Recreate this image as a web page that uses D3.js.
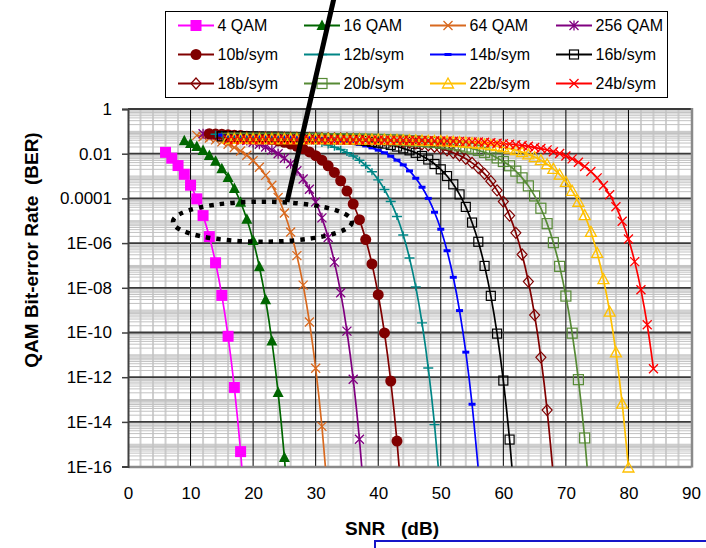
<!DOCTYPE html>
<html>
<head>
<meta charset="utf-8">
<script src="https://cdn.jsdelivr.net/npm/d3@7"></script>
<style>
  body { margin: 0; background: #fff; }
  svg { display: block; }
  text { font-family: Arial, "Liberation Sans", sans-serif; fill: #000; }
</style>
</head>
<body>
<svg id="chart" width="706" height="548"></svg>
<script>
// ---- data: log10(BER) per series, one point per dB starting at snrStart ----
const seriesLabels = ["4 QAM", "16 QAM", "64 QAM", "256 QAM",
  "10b/sym", "12b/sym", "14b/sym", "16b/sym",
  "18b/sym", "20b/sym", "22b/sym", "24b/sym"];

const snrStart = [6, 9, 11, 12, 13, 14, 15, 15, 16, 16, 16, 16];

const logBer4qam = [-1.94, -2.20, -2.53, -2.92, -3.41, -4.02, -4.77, -5.71, -6.88, -8.34,
  -10.17, -12.46, -15.33, -18.94];

const logBer16qam = [-1.42, -1.54, -1.68, -1.86, -2.08, -2.34, -2.67, -3.06, -3.56, -4.17,
  -4.93, -5.88, -7.06, -8.53, -10.38, -12.69, -15.59, -19.22];

const logBer64qam = [-1.18, -1.24, -1.30, -1.38, -1.47, -1.58, -1.72, -1.88, -2.07, -2.31,
  -2.61, -2.97, -3.41, -3.96, -4.65, -5.50, -6.56, -7.88, -9.53, -11.60, -14.20, -17.45];

const logBer256qam = [-1.11, -1.13, -1.16, -1.20, -1.24, -1.29, -1.34, -1.41, -1.49, -1.58,
  -1.70, -1.84, -2.00, -2.20, -2.45, -2.76, -3.13, -3.59, -4.16, -4.87,
  -5.75, -6.85, -8.22, -9.94, -12.09, -14.78, -18.16];

const logBer10b = [-1.11, -1.12, -1.13, -1.15, -1.17, -1.19, -1.22, -1.25, -1.28, -1.32,
  -1.37, -1.43, -1.49, -1.57, -1.67, -1.78, -1.92, -2.09, -2.29, -2.54,
  -2.84, -3.21, -3.67, -4.25, -4.95, -5.84, -6.93, -8.31, -10.02, -12.17,
  -14.86, -18.24];

const logBer12b = [-1.13, -1.13, -1.14, -1.15, -1.16, -1.17, -1.18, -1.19, -1.21, -1.23,
  -1.25, -1.27, -1.30, -1.34, -1.38, -1.42, -1.47, -1.54, -1.61, -1.71,
  -1.81, -1.95, -2.10, -2.29, -2.53, -2.81, -3.17, -3.60, -4.14, -4.81,
  -5.64, -6.67, -7.96, -9.57, -11.59, -14.12, -17.29];

const logBer14b = [-1.17, -1.18, -1.18, -1.18, -1.19, -1.19, -1.20, -1.21, -1.21, -1.22,
  -1.23, -1.24, -1.26, -1.27, -1.29, -1.31, -1.33, -1.36, -1.39, -1.43,
  -1.47, -1.52, -1.58, -1.65, -1.74, -1.84, -1.96, -2.11, -2.29, -2.50,
  -2.77, -3.10, -3.50, -4.00, -4.62, -5.38, -6.34, -7.53, -9.02, -10.88,
  -13.21, -16.14];

const logBer16b = [-1.22, -1.22, -1.22, -1.22, -1.23, -1.23, -1.23, -1.24, -1.24, -1.24,
  -1.25, -1.25, -1.26, -1.27, -1.28, -1.29, -1.30, -1.31, -1.32, -1.34,
  -1.36, -1.38, -1.40, -1.43, -1.47, -1.51, -1.55, -1.61, -1.68, -1.76,
  -1.85, -1.96, -2.10, -2.26, -2.46, -2.70, -3.00, -3.37, -3.82, -4.38,
  -5.08, -5.94, -7.02, -8.36, -10.05, -12.15, -14.79, -18.10];

const logBer18b = [-1.26, -1.26, -1.27, -1.27, -1.27, -1.27, -1.27, -1.27, -1.27, -1.28,
  -1.28, -1.28, -1.29, -1.29, -1.29, -1.30, -1.30, -1.31, -1.32, -1.32,
  -1.33, -1.34, -1.35, -1.37, -1.38, -1.40, -1.42, -1.44, -1.47, -1.50,
  -1.54, -1.58, -1.63, -1.69, -1.77, -1.85, -1.96, -2.08, -2.23, -2.41,
  -2.63, -2.90, -3.23, -3.64, -4.14, -4.77, -5.54, -6.51, -7.72, -9.22,
  -11.11, -13.47, -16.44];

const logBer20b = [-1.31, -1.31, -1.31, -1.31, -1.31, -1.31, -1.31, -1.31, -1.31, -1.31,
  -1.31, -1.31, -1.32, -1.32, -1.32, -1.32, -1.33, -1.33, -1.33, -1.34,
  -1.34, -1.35, -1.35, -1.36, -1.36, -1.37, -1.38, -1.39, -1.40, -1.42,
  -1.43, -1.45, -1.48, -1.50, -1.53, -1.56, -1.60, -1.65, -1.70, -1.77,
  -1.85, -1.94, -2.05, -2.19, -2.35, -2.54, -2.78, -3.08, -3.44, -3.89,
  -4.44, -5.13, -5.98, -7.04, -8.37, -10.03, -12.11, -14.72, -17.99];

const logBer22b = [-1.34, -1.34, -1.34, -1.34, -1.35, -1.35, -1.35, -1.35, -1.35, -1.35,
  -1.35, -1.35, -1.35, -1.35, -1.35, -1.35, -1.35, -1.35, -1.36, -1.36,
  -1.36, -1.36, -1.36, -1.37, -1.37, -1.37, -1.38, -1.38, -1.39, -1.39,
  -1.40, -1.41, -1.42, -1.43, -1.44, -1.45, -1.47, -1.48, -1.50, -1.53,
  -1.55, -1.58, -1.62, -1.66, -1.71, -1.77, -1.84, -1.93, -2.03, -2.15,
  -2.29, -2.47, -2.68, -2.94, -3.26, -3.66, -4.15, -4.75, -5.50, -6.44,
  -7.61, -9.07, -10.89, -13.18, -16.04];

const logBer24b = [-1.38, -1.38, -1.38, -1.38, -1.38, -1.38, -1.38, -1.38, -1.38, -1.38,
  -1.38, -1.38, -1.38, -1.38, -1.38, -1.39, -1.39, -1.39, -1.39, -1.39,
  -1.39, -1.39, -1.39, -1.39, -1.39, -1.40, -1.40, -1.40, -1.40, -1.41,
  -1.41, -1.41, -1.42, -1.42, -1.43, -1.43, -1.44, -1.45, -1.46, -1.47,
  -1.48, -1.49, -1.51, -1.53, -1.55, -1.57, -1.60, -1.63, -1.67, -1.72,
  -1.77, -1.83, -1.91, -1.99, -2.10, -2.23, -2.38, -2.57, -2.80, -3.08,
  -3.42, -3.84, -4.37, -5.02, -5.82, -6.83, -8.09, -9.65, -11.62];

const xTickValues = [0, 10, 20, 30, 40, 50, 60, 70, 80, 90];
const yTickExponents = [0, -2, -4, -6, -8, -10, -12, -14, -16];
const yTickLabels = ["1", "0.01", "0.0001", "1E-06", "1E-08", "1E-10", "1E-12", "1E-14", "1E-16"];

// ---- styling per series ----
const seriesStyle = [
  { color: "#FF00FF", marker: "square" },
  { color: "#006600", marker: "triangle" },
  { color: "#D8691F", marker: "cross" },
  { color: "#800080", marker: "star" },
  { color: "#800000", marker: "circle" },
  { color: "#008585", marker: "plus" },
  { color: "#0000FF", marker: "dash" },
  { color: "#000000", marker: "squareOpen" },
  { color: "#800000", marker: "diamondOpen" },
  { color: "#568A35", marker: "squareOpen2" },
  { color: "#FFC000", marker: "triangleOpen" },
  { color: "#FF0000", marker: "cross" }
];

const logSeries = [logBer4qam, logBer16qam, logBer64qam, logBer256qam,
  logBer10b, logBer12b, logBer14b, logBer16b,
  logBer18b, logBer20b, logBer22b, logBer24b];

const series = logSeries.map((vals, s) => ({
  label: seriesLabels[s],
  style: seriesStyle[s],
  points: vals.map((v, i) => ({ snr: snrStart[s] + i, ber: Math.pow(10, v) }))
}));

// ---- layout ----
const svg = d3.select("#chart");
const plot = { left: 128, right: 691, top: 109, bottom: 466.6 };

const x = d3.scaleLinear().domain([0, 90]).range([plot.left, plot.right]);
const y = d3.scaleLog().domain([1e-16, 1]).range([plot.bottom, plot.top]);

svg.append("rect").attr("width", 706).attr("height", 548).attr("fill", "#fff");

const defs = svg.append("defs");
defs.append("clipPath").attr("id", "plotClip")
  .append("rect")
  .attr("x", plot.left).attr("y", plot.top)
  .attr("width", plot.right - plot.left + 1)
  .attr("height", plot.bottom - plot.top);

// ---- gridlines ----
const grid = svg.append("g");

// vertical minor lines every 2 dB
d3.range(2, 90, 2).filter(v => v % 10 !== 0).forEach(v => {
  grid.append("line")
    .attr("x1", x(v)).attr("x2", x(v))
    .attr("y1", plot.top).attr("y2", plot.bottom)
    .attr("stroke", "#CFCFCF").attr("stroke-width", 2);
});

// horizontal minor lines at k * 10^e
for (let e = -16; e < 0; e++) {
  for (let k = 1; k <= 9; k++) {
    if (k === 1 && e % 2 === 0) continue;
    const v = k * Math.pow(10, e);
    grid.append("line")
      .attr("x1", plot.left).attr("x2", plot.right)
      .attr("y1", y(v)).attr("y2", y(v))
      .attr("stroke", "#C2C2C2").attr("stroke-width", 1);
  }
}

// vertical major lines every 10 dB
xTickValues.filter(v => v > 0 && v < 90).forEach(v => {
  grid.append("line")
    .attr("x1", x(v)).attr("x2", x(v))
    .attr("y1", plot.top).attr("y2", plot.bottom)
    .attr("stroke", "#000").attr("stroke-width", 1);
});

// horizontal major lines every two decades
yTickExponents.filter(e => e > -16).forEach(e => {
  const v = Math.pow(10, e);
  grid.append("line")
    .attr("x1", plot.left).attr("x2", plot.right + 1)
    .attr("y1", y(v)).attr("y2", y(v))
    .attr("stroke", "#3A3A3A").attr("stroke-width", 1.8);
});

// right border
grid.append("line")
  .attr("x1", plot.right + 1).attr("x2", plot.right + 1)
  .attr("y1", plot.top - 1).attr("y2", plot.bottom + 1)
  .attr("stroke", "#8A8A8A").attr("stroke-width", 2.5);

// ---- axes ----
const xAxis = d3.axisBottom(x).tickValues(xTickValues).tickSize(0).tickPadding(20).tickFormat(d3.format("d"));
const gx = svg.append("g").attr("transform", `translate(0,${plot.bottom})`).call(xAxis);
gx.select(".domain").attr("stroke", "#8A8A8A").attr("stroke-width", 2.5);
gx.selectAll(".tick text").attr("font-size", 17).attr("font-family", "Arial, 'Liberation Sans', sans-serif");

const yAxis = d3.axisLeft(y)
  .tickValues(yTickExponents.map(e => Math.pow(10, e)))
  .tickFormat((d, i) => yTickLabels[i])
  .tickSize(6).tickPadding(10);
const gy = svg.append("g").attr("transform", `translate(${plot.left},0)`).call(yAxis);
gy.select(".domain").attr("stroke", "#404040").attr("stroke-width", 2);
gy.selectAll(".tick line").attr("stroke", "#404040").attr("stroke-width", 1.5);
gy.selectAll(".tick text").attr("font-size", 17).attr("font-family", "Arial, 'Liberation Sans', sans-serif");

// axis titles
svg.append("text")
  .attr("x", 392).attr("y", 535)
  .attr("text-anchor", "middle")
  .attr("font-size", 19).attr("font-weight", "bold")
  .style("white-space", "pre")
  .text("SNR   (dB)");

svg.append("text")
  .attr("transform", "translate(38,250) rotate(-90)")
  .attr("text-anchor", "middle")
  .attr("font-size", 19).attr("font-weight", "bold")
  .style("white-space", "pre")
  .text("QAM Bit-error Rate  (BER)");

// ---- markers ----
function drawMarker(g, type, color) {
  switch (type) {
    case "square":
      g.append("rect").attr("x", -5.5).attr("y", -5.5).attr("width", 11).attr("height", 11).attr("fill", color);
      break;
    case "triangle":
      g.append("path").attr("d", "M0,-6 L5.5,4.5 L-5.5,4.5 Z").attr("fill", color);
      break;
    case "cross":
      g.append("path").attr("d", "M-4.5,-4.5 L4.5,4.5 M-4.5,4.5 L4.5,-4.5")
        .attr("stroke", color).attr("stroke-width", 1.3).attr("fill", "none");
      break;
    case "star":
      g.append("path").attr("d", "M-4.5,-4.5 L4.5,4.5 M-4.5,4.5 L4.5,-4.5 M0,-5 L0,5")
        .attr("stroke", color).attr("stroke-width", 1.3).attr("fill", "none");
      break;
    case "circle":
      g.append("circle").attr("r", 5.5).attr("fill", color);
      break;
    case "plus":
      g.append("path").attr("d", "M-5,0 L5,0 M0,-3.5 L0,3.5")
        .attr("stroke", color).attr("stroke-width", 1.4).attr("fill", "none");
      break;
    case "dash":
      g.append("rect").attr("x", -3.5).attr("y", -1.5).attr("width", 7).attr("height", 3).attr("fill", color);
      break;
    case "squareOpen":
      g.append("rect").attr("x", -4.5).attr("y", -4.5).attr("width", 9).attr("height", 9)
        .attr("fill", "none").attr("stroke", color).attr("stroke-width", 1.2);
      break;
    case "squareOpen2":
      g.append("rect").attr("x", -5).attr("y", -5).attr("width", 10).attr("height", 10)
        .attr("fill", "none").attr("stroke", color).attr("stroke-width", 1.2);
      break;
    case "diamondOpen":
      g.append("path").attr("d", "M0,-5.5 L5,0 L0,5.5 L-5,0 Z")
        .attr("fill", "none").attr("stroke", color).attr("stroke-width", 1.2);
      break;
    case "triangleOpen":
      g.append("path").attr("d", "M0,-5.5 L5.5,4.5 L-5.5,4.5 Z")
        .attr("fill", "none").attr("stroke", color).attr("stroke-width", 1.3);
      break;
  }
}

// ---- series ----
const line = d3.line()
  .x(d => x(d.snr))
  .y(d => y(d.ber))
  .curve(d3.curveMonotoneX);

const linesG = svg.append("g").attr("clip-path", "url(#plotClip)");
series.forEach(s => {
  linesG.append("path")
    .datum(s.points)
    .attr("d", line)
    .attr("fill", "none")
    .attr("stroke", s.style.color)
    .attr("stroke-width", 1.7);
  // markers that fall inside the axis range
  s.points.filter(p => p.ber >= 0.9e-16).forEach(p => {
    const mg = svg.append("g").attr("transform", `translate(${x(p.snr)},${y(p.ber)})`);
    drawMarker(mg, s.style.marker, s.style.color);
  });
});

// ---- legend ----
const legend = svg.append("g");
legend.append("rect")
  .attr("x", 165.5).attr("y", 11.5).attr("width", 502).attr("height", 86)
  .attr("fill", "#fff").attr("stroke", "#000").attr("stroke-width", 1);

const colX = [178, 304, 430, 556];
const rowY = [25.5, 54.5, 83.5];
series.forEach((s, i) => {
  const cx = colX[i % 4], cy = rowY[Math.floor(i / 4)];
  legend.append("line")
    .attr("x1", cx).attr("x2", cx + 36).attr("y1", cy).attr("y2", cy)
    .attr("stroke", s.style.color).attr("stroke-width", 2);
  const mg = legend.append("g").attr("transform", `translate(${cx + 18},${cy})`);
  drawMarker(mg, s.style.marker, s.style.color);
  legend.append("text")
    .attr("x", cx + 39.5).attr("y", cy).attr("dy", "0.36em")
    .attr("font-size", 16)
    .text(s.label);
});

// ---- annotation: dotted ellipse and pointer line ----
svg.append("ellipse")
  .attr("cx", 262.5).attr("cy", 221.7).attr("rx", 89.5).attr("ry", 20)
  .attr("fill", "none").attr("stroke", "#000")
  .attr("stroke-width", 4.5).attr("stroke-dasharray", "4.5 6");

svg.append("line")
  .attr("x1", 334).attr("y1", -2).attr("x2", 287).attr("y2", 202)
  .attr("stroke", "#000").attr("stroke-width", 5);

// ---- corner of the box below the chart ----
svg.append("path")
  .attr("d", "M707,541 H375 V549")
  .attr("fill", "none").attr("stroke", "#1515C8").attr("stroke-width", 2);
</script>
</body>
</html>
